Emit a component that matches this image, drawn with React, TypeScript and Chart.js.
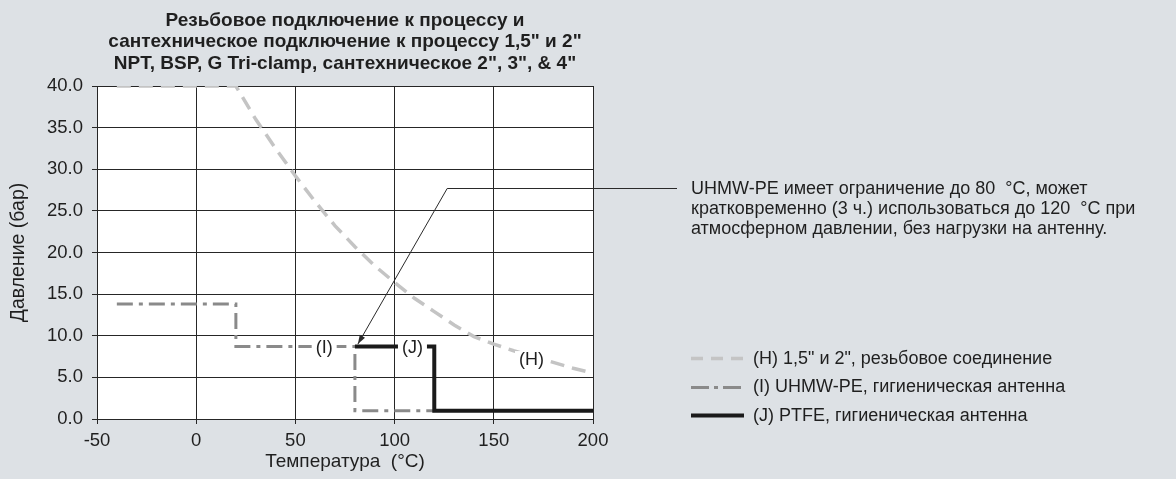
import React, { useEffect, useRef } from 'react';
import { Chart, registerables } from 'chart.js';

Chart.register(...registerables);

const FONT = '"Liberation Sans", Arial, Helvetica, sans-serif';
const TEXT = '#1f1f1f';
const BG = '#dde1e5';
const GRID = '#262626';

const titleLines = [
  'Резьбовое подключение к процессу и',
  'сантехническое подключение к процессу 1,5" и 2"',
  'NPT, BSP, G Tri-clamp, сантехническое 2", 3", & 4"',
];
const xAxisTitle = 'Температура  (°C)';
const yAxisTitle = 'Давление (бар)';
const xMin = -50;
const xMax = 200;
const xStep = 50;
const yMin = 0;
const yMax = 40;
const yStep = 5;

// (H) 1,5" и 2", резьбовое соединение
const hTemps = [-40, 20, 30, 40, 50, 60, 70, 80, 90, 100, 110, 120, 130, 140, 150, 160, 170, 180, 190, 200];
const hPressures = [40, 40, 36.0, 32.5, 29.2, 26.1, 23.2, 20.7, 18.4, 16.4, 14.5, 12.9, 11.3, 9.9, 9.0, 8.2, 7.5, 6.8, 6.1, 5.5];

// (I) UHMW-PE, гигиеническая антенна
const iTemps = [-40, 20, 20, 80, 80, 120];
const iPressures = [13.8, 13.8, 8.7, 8.7, 1.0, 1.0];

// (J) PTFE, гигиеническая антенна
const jTemps = [80, 120, 120, 200];
const jPressures = [8.7, 8.7, 1.0, 1.0];

const seriesNames = [
  '(H) 1,5" и 2", резьбовое соединение',
  '(I) UHMW-PE, гигиеническая антенна',
  '(J) PTFE, гигиеническая антенна',
];

const curveLabels = ['(H)', '(I)', '(J)'];
const curveLabelTemps = [169, 64.5, 109];
const curveLabelPressures = [7.2, 8.7, 8.7];

const noteLines = [
  'UHMW-PE имеет ограничение до 80  °C, может',
  'кратковременно (3 ч.) использоваться до 120  °C при',
  'атмосферном давлении, без нагрузки на антенну.',
];
const noteTipTemp = 81.5;
const noteTipPressure = 9.0;
const noteElbowTemp = 126.5;
const noteElbowPressure = 27.8;

const toPoints = (xs: number[], ys: number[]) => xs.map((x, i) => ({ x, y: ys[i] }));

const overlayPlugin = {
  id: 'overlay',
  afterDatasetsDraw(chart: any) {
    const { ctx, scales } = chart;
    const x = scales.x;
    const y = scales.y;
    ctx.save();
    ctx.font = `18px ${FONT}`;
    ctx.textBaseline = 'middle';
    ctx.textAlign = 'center';
    curveLabels.forEach((t, i) => {
      const px = x.getPixelForValue(curveLabelTemps[i]);
      const py = y.getPixelForValue(curveLabelPressures[i]);
      const w = ctx.measureText(t).width + 8;
      ctx.fillStyle = '#ffffff';
      ctx.fillRect(px - w / 2, py - 8, w, 16);
      ctx.fillStyle = TEXT;
      ctx.fillText(t, px, py + 1);
    });

    // annotation leader line with arrow
    const tipX = x.getPixelForValue(noteTipTemp);
    const tipY = y.getPixelForValue(noteTipPressure);
    const elbX = x.getPixelForValue(noteElbowTemp);
    const elbY = Math.round(y.getPixelForValue(noteElbowPressure)) + 0.5;
    const endX = 677;
    ctx.strokeStyle = '#2a2a2a';
    ctx.lineWidth = 1;
    ctx.beginPath();
    ctx.moveTo(endX, elbY);
    ctx.lineTo(elbX, elbY);
    ctx.lineTo(tipX, tipY);
    ctx.stroke();
    const ang = Math.atan2(tipY - elbY, tipX - elbX);
    const aL = 9;
    const aW = 3;
    ctx.fillStyle = '#2a2a2a';
    ctx.beginPath();
    ctx.moveTo(tipX, tipY);
    ctx.lineTo(tipX - aL * Math.cos(ang) + aW * Math.sin(ang), tipY - aL * Math.sin(ang) - aW * Math.cos(ang));
    ctx.lineTo(tipX - aL * Math.cos(ang) - aW * Math.sin(ang), tipY - aL * Math.sin(ang) + aW * Math.cos(ang));
    ctx.closePath();
    ctx.fill();

    // note text
    ctx.textAlign = 'left';
    ctx.fillStyle = TEXT;
    noteLines.forEach((line, i) => {
      ctx.fillText(line, 691, elbY + 1 + i * 20);
    });

    // legend
    const ds = chart.data.datasets;
    const legendOrder = [2, 1, 0];
    legendOrder.forEach((di, row) => {
      const d = ds[di];
      const ly = 358 + row * 28.5;
      ctx.save();
      ctx.strokeStyle = d.borderColor;
      ctx.lineWidth = d.borderWidth;
      ctx.setLineDash(d.legendDash || []);
      ctx.beginPath();
      ctx.moveTo(691, Math.round(ly) + 0.5);
      ctx.lineTo(744, Math.round(ly) + 0.5);
      ctx.stroke();
      ctx.restore();
      ctx.fillStyle = TEXT;
      ctx.fillText(d.label, 753, ly + 1);
    });
    ctx.restore();
  },
};

export default function App() {
  const canvasRef = useRef<HTMLCanvasElement | null>(null);

  useEffect(() => {
    document.body.style.margin = '0';
    const canvas = canvasRef.current;
    if (!canvas) return;
    const chart = new Chart(canvas, {
      type: 'line',
      data: {
        datasets: [
          {
            label: seriesNames[2],
            data: toPoints(jTemps, jPressures),
            borderColor: '#1a1a1a',
            borderWidth: 4,
            pointRadius: 0,
            tension: 0,
            order: 0,
            legendDash: [],
          } as any,
          {
            label: seriesNames[1],
            data: toPoints(iTemps, iPressures),
            borderColor: '#8a8a8a',
            borderWidth: 3,
            borderDash: [16, 6, 4, 6],
            pointRadius: 0,
            tension: 0,
            order: 1,
            legendDash: [18, 5, 4, 5],
          } as any,
          {
            label: seriesNames[0],
            data: toPoints(hTemps, hPressures),
            borderColor: '#c4c4c4',
            borderWidth: 3.5,
            borderDash: [14, 8],
            pointRadius: 0,
            tension: 0,
            order: 2,
            legendDash: [12, 8],
          } as any,
        ],
      },
      options: {
        animation: false,
        responsive: false,
        devicePixelRatio: 1,
        layout: { padding: { top: 0, left: 0, right: 583, bottom: 0 } },
        plugins: {
          legend: { display: false },
          tooltip: { enabled: false },
          title: {
            display: true,
            text: titleLines,
            fullSize: false,
            color: TEXT,
            font: { family: FONT, size: 19, weight: 'bold', lineHeight: 1.13 },
            padding: { top: 10, bottom: 11.6 },
          },
        },
        scales: {
          x: {
            type: 'linear',
            min: xMin,
            max: xMax,
            ticks: {
              stepSize: xStep,
              color: TEXT,
              font: { family: FONT, size: 18.5 },
              padding: 6,
              maxRotation: 0,
            },
            grid: { color: GRID, lineWidth: 1, tickLength: 5 },
            border: { color: GRID },
            title: {
              display: true,
              text: xAxisTitle,
              color: TEXT,
              font: { family: FONT, size: 19 },
              padding: { top: 0, bottom: 5.5 },
            },
            afterFit: (s: any) => {
              s.height = 60;
            },
          },
          y: {
            type: 'linear',
            min: yMin,
            max: yMax,
            ticks: {
              stepSize: yStep,
              color: TEXT,
              font: { family: FONT, size: 18.5 },
              padding: 9,
              callback: (v: any) => Number(v).toFixed(1),
            },
            grid: { color: GRID, lineWidth: 1, tickLength: 5 },
            border: { color: GRID },
            title: {
              display: true,
              text: yAxisTitle,
              color: TEXT,
              font: { family: FONT, size: 19.5 },
              padding: { top: 7.3, bottom: 0 },
            },
            afterFit: (s: any) => {
              s.width = 97;
            },
          },
        },
      } as any,
      plugins: [
        {
          id: 'plotBg',
          beforeDraw(c: any) {
            const { ctx, chartArea } = c;
            ctx.save();
            ctx.fillStyle = '#ffffff';
            ctx.fillRect(chartArea.left, chartArea.top, chartArea.right - chartArea.left, chartArea.bottom - chartArea.top);
            ctx.restore();
          },
        },
        overlayPlugin,
      ],
    });
    return () => chart.destroy();
  }, []);

  return (
    <div style={{ position: 'fixed', left: 0, top: 0, width: 1176, height: 479, background: BG }}>
      <canvas ref={canvasRef} width={1176} height={479} style={{ width: 1176, height: 479, display: 'block' }} />
    </div>
  );
}
